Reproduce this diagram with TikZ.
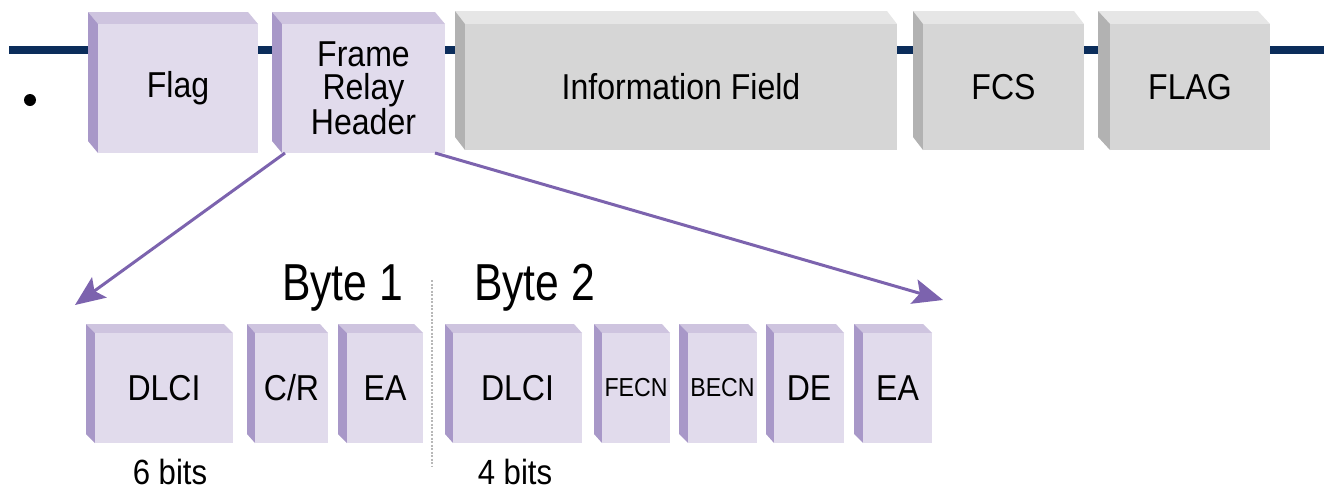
\documentclass[tikz,border=0pt]{standalone}
\usepackage{fontspec}
\setmainfont{Liberation Sans}
\newfontfamily\boxfont[FakeStretch=0.89]{Liberation Sans}
\newfontfamily\bytefont[FakeStretch=0.82]{Liberation Sans}
\usetikzlibrary{calc,arrows.meta}

\definecolor{navy}{HTML}{0B2D5B}
\definecolor{arrowpurple}{HTML}{7C63AE}
\definecolor{pfront}{HTML}{E1DBEC}
\definecolor{ptop}{HTML}{CEC4DF}
\definecolor{pside}{HTML}{A898C8}
\definecolor{gfront}{HTML}{D6D6D6}
\definecolor{gtop}{HTML}{E6E6E6}
\definecolor{gside}{HTML}{B2B2B2}
\definecolor{sepgray}{HTML}{B8B8B8}

\tikzset{
  ppal/.code={\def\bbtop{ptop}\def\bbside{pside}\def\bbfront{pfront}},
  gpal/.code={\def\bbtop{gtop}\def\bbside{gside}\def\bbfront{gfront}},
  facebox/.style={inner sep=0pt, outer sep=0pt, align=center, text=black},
  toplabel/.style={font=\boxfont\fontsize{36}{33}\selectfont},
  botlabel/.style={font=\boxfont\fontsize{36}{33}\selectfont},
  smalllabel/.style={font=\boxfont\fontsize{26}{26}\selectfont},
  bitlabel/.style={font=\boxfont\fontsize{35}{35}\selectfont, inner sep=0pt},
  bytelabel/.style={font=\bytefont\fontsize{52}{52}\selectfont, inner sep=0pt, anchor=base west},
  pointer/.style={arrowpurple, line width=3pt, -{Stealth[length=30pt, width=25pt, inset=6pt]}},
}

% \bevelbox{name}{x1}{y1}{x2}{y2}{dx}{dy}{palette, label style}{label}
\newcommand\bevelbox[9]{%
  \pgfmathsetmacro\bbw{#4-#2}%
  \pgfmathsetmacro\bbh{#5-#3}%
  \pgfmathsetmacro\bbcx{(#2+#4)/2}%
  \pgfmathsetmacro\bbcy{(#3+#5)/2}%
  \begin{scope}[#8]
    \fill[\bbtop] (#2-#6,#3-#7) -- (#4-#6,#3-#7) -- (#4,#3) -- (#2,#3) -- cycle;
    \fill[\bbside] (#2-#6,#3-#7) -- (#2,#3) -- (#2,#5) -- (#2-#6,#5-#7) -- cycle;
    \node[facebox, fill=\bbfront, minimum width=\bbw pt, minimum height=\bbh pt]
      (#1) at (\bbcx,\bbcy) {#9};
  \end{scope}
}

\begin{document}
\begin{tikzpicture}[x=1pt, y=-1pt]
  \useasboundingbox (0,0) rectangle (1324,490);

  % transmission line behind the frame
  \draw[navy, line width=8pt] (9,50) -- (1324,50);
  \fill[black] (30,100) circle[radius=6pt];

  % frame fields
  \bevelbox{flag}{98}{24}{258}{153}{10}{12}{ppal,toplabel}{Flag}
  \bevelbox{hdr}{282}{24}{445}{153}{10}{12}{ppal,toplabel}{Frame\\Relay\\Header}
  \bevelbox{info}{465}{24}{897}{150}{10}{13}{gpal,toplabel}{Information Field}
  \bevelbox{fcs}{923}{24}{1084}{150}{10}{13}{gpal,toplabel}{FCS}
  \bevelbox{flagEnd}{1110}{24}{1270}{150}{12}{13}{gpal,toplabel}{FLAG}

  % header bits
  \bevelbox{dlciA}{95}{333}{233}{443}{9}{9}{ppal,botlabel}{DLCI}
  \bevelbox{cr}{255}{333}{328}{443}{8}{9}{ppal,botlabel}{C/R}
  \bevelbox{eaA}{347}{333}{423}{443}{9}{9}{ppal,botlabel}{EA}
  \bevelbox{dlciB}{453}{333}{582}{443}{8}{9}{ppal,botlabel}{DLCI}
  \bevelbox{fecn}{602}{333}{670}{443}{8}{9}{ppal,smalllabel}{FECN}
  \bevelbox{becn}{688}{333}{757}{443}{9}{9}{ppal,smalllabel}{BECN}
  \bevelbox{de}{774}{333}{844}{443}{8}{9}{ppal,botlabel}{DE}
  \bevelbox{eaB}{863}{333}{932}{443}{9}{9}{ppal,botlabel}{EA}

  % byte boundary
  \draw[sepgray, line width=2.5pt, dash pattern=on 2pt off 1.5pt] (432,280) -- (432,466);
  \node[bytelabel] (byteA) at (282,300) {Byte 1};
  \node[bytelabel] (byteB) at (474,300) {Byte 2};

  \node[bitlabel] (bitsA) at (170,472) {6 bits};
  \node[bitlabel] (bitsB) at (515,472) {4 bits};

  % expansion pointers
  \coordinate (tipA) at (75,305);
  \coordinate (tipB) at (943,300);
  \draw[pointer] ($(hdr.south west)+(3,0)$) -- (tipA);
  \draw[pointer] ($(hdr.south east)+(-10,0)$) -- (tipB);
\end{tikzpicture}
\end{document}
